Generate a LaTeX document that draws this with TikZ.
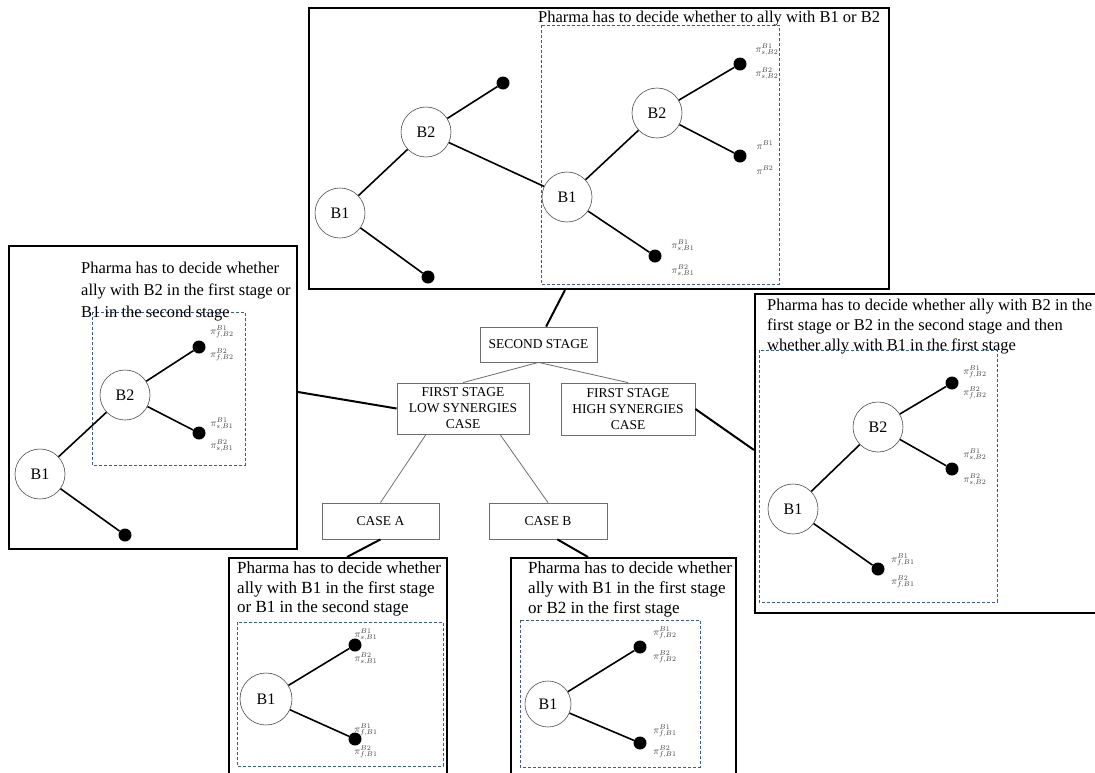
\documentclass[tikz,border=0pt]{standalone}
\usepackage{fontspec}
\setmainfont{Liberation Serif}
\usetikzlibrary{calc}
\definecolor{dashblue}{RGB}{60,90,140}
\definecolor{boxgray}{RGB}{110,110,110}
\definecolor{lblgray}{RGB}{60,60,60}
\begin{document}
\begin{tikzpicture}[x=1pt,y=-1pt,
 panel/.style={draw=black, line width=2pt, fill=white, inner sep=0pt},
 dbox/.style={draw=dashblue, line width=1pt, dash pattern=on 3pt off 2pt},
 bnode/.style={circle, draw=black!70, line width=0.6pt, fill=white, minimum size=50pt, inner sep=0pt, font=\fontsize{16}{16}\selectfont},
 leaf/.style={circle, fill=black, minimum size=13pt, inner sep=0pt},
 branch/.style={line width=1.6pt, black},
 cbox/.style={draw=boxgray, line width=0.8pt, fill=white, align=center, inner sep=0pt, font=\fontsize{13.5}{16}\selectfont},
 clink/.style={draw=boxgray, line width=0.8pt},
 plink/.style={line width=2pt, black},
 ptext/.style={anchor=base west, inner sep=0pt, font=\fontsize{16.5}{20}\selectfont},
 ctext/.style={anchor=base west, inner sep=0pt, font=\fontsize{17}{20}\selectfont},
 lbl/.style={inner sep=0pt, text=lblgray, font=\fontsize{10}{12}\selectfont},
]
\useasboundingbox (0,0) rectangle (1095,772);
\fill[white] (0,0) rectangle (1095,772);

% ---------- panels ----------
\node[panel, minimum width=580pt, minimum height=281pt, anchor=north west] (ptop) at (308,7) {};
\node[panel, minimum width=288pt, minimum height=303pt, anchor=north west] (pleft) at (8,245) {};
\node[panel, minimum width=350pt, minimum height=319pt, anchor=north west] (pright) at (754,293) {};
\node[panel, minimum width=218pt, minimum height=230pt, anchor=north west] (pcasea) at (228,557) {};
\node[panel, minimum width=225pt, minimum height=230pt, anchor=north west] (pcaseb) at (510,557) {};

% ---------- dashed boxes ----------
\draw[dbox] (541,25) rectangle (779,284);
\draw[dbox] (92,312) rectangle (245,465);
\draw[dbox] (759,350) rectangle (997,602);
\draw[dbox] (237,622) rectangle (443,766);
\draw[dbox] (520,620) rectangle (700,767);

% ---------- panel texts ----------
\node[ptext] (ttop) at (538,22) {Pharma has to decide whether to ally with B1 or B2};
\node[ptext] (tl1) at (81,273) {Pharma has to decide whether};
\node[ptext] (tl2) at (81,295) {ally with B2 in the first stage or};
\node[ptext] (tl3) at (81,317) {B1 in the second stage};
\node[ptext] (tr1) at (767,310) {Pharma has to decide whether ally with B2 in the};
\node[ptext] (tr2) at (767,330) {first stage or B2 in the second stage and then};
\node[ptext] (tr3) at (767,350) {whether ally with B1 in the first stage};
\node[ctext] (ta1) at (237,573) {Pharma has to decide whether};
\node[ctext] (ta2) at (237,593) {ally with B1 in the first stage};
\node[ctext] (ta3) at (237,612) {or B1 in the second stage};
\node[ctext] (tb1) at (528,573) {Pharma has to decide whether};
\node[ctext] (tb2) at (528,593) {ally with B1 in the first stage};
\node[ctext] (tb3) at (528,613) {or B2 in the first stage};

% ---------- top panel tree ----------
\node[bnode] (tB1) at (340,213) {B1};
\node[bnode] (tB2) at (426,132) {B2};
\node[leaf] (tL1) at (503,83) {};
\node[leaf] (tL2) at (428,277) {};
\node[bnode] (iB1) at (567,197) {B1};
\node[bnode] (iB2) at (657,113) {B2};
\node[leaf] (iL1) at (740,64) {};
\node[leaf] (iL2) at (740,156) {};
\node[leaf] (iL3) at (655,256) {};
\draw[branch] (tB1) -- (tB2);
\draw[branch] (tB1) -- (tL2);
\draw[branch] (tB2) -- (tL1);
\draw[branch] (tB2) -- (iB1);
\draw[branch] (iB1) -- (iB2);
\draw[branch] (iB1) -- (iL3);
\draw[branch] (iB2) -- (iL1);
\draw[branch] (iB2) -- (iL2);
\node[lbl] (x1) at (767,50) {$\pi^{B1}_{s,B2}$};
\node[lbl] (x2) at (767,74) {$\pi^{B2}_{s,B2}$};
\node[lbl] (x3) at (765,145) {$\pi^{B1}$};
\node[lbl] (x4) at (765,170) {$\pi^{B2}$};
\node[lbl] (x5) at (683,246) {$\pi^{B1}_{s,B1}$};
\node[lbl] (x6) at (683,271) {$\pi^{B2}_{s,B1}$};

% ---------- left panel tree ----------
\node[bnode] (lB1) at (40,474) {B1};
\node[bnode] (lB2) at (125,395) {B2};
\node[leaf] (lL1) at (199,347) {};
\node[leaf] (lL2) at (199,433) {};
\node[leaf] (lL3) at (125,535) {};
\draw[branch] (lB1) -- (lB2);
\draw[branch] (lB1) -- (lL3);
\draw[branch] (lB2) -- (lL1);
\draw[branch] (lB2) -- (lL2);
\node[lbl] (y1) at (222,332) {$\pi^{B1}_{f,B2}$};
\node[lbl] (y2) at (222,355) {$\pi^{B2}_{f,B2}$};
\node[lbl] (y3) at (222,424) {$\pi^{B1}_{s,B1}$};
\node[lbl] (y4) at (222,446) {$\pi^{B2}_{s,B1}$};

% ---------- right panel tree ----------
\node[bnode] (rB1) at (793,509) {B1};
\node[bnode] (rB2) at (878,427) {B2};
\node[leaf] (rL1) at (952,383) {};
\node[leaf] (rL2) at (952,469) {};
\node[leaf] (rL3) at (878,569) {};
\draw[branch] (rB1) -- (rB2);
\draw[branch] (rB1) -- (rL3);
\draw[branch] (rB2) -- (rL1);
\draw[branch] (rB2) -- (rL2);
\node[lbl] (z1) at (975,372) {$\pi^{B1}_{f,B2}$};
\node[lbl] (z2) at (975,393) {$\pi^{B2}_{f,B2}$};
\node[lbl] (z3) at (975,455) {$\pi^{B1}_{s,B2}$};
\node[lbl] (z4) at (975,480) {$\pi^{B2}_{s,B2}$};
\node[lbl] (z5) at (903,560) {$\pi^{B1}_{f,B1}$};
\node[lbl] (z6) at (903,582) {$\pi^{B2}_{f,B1}$};

% ---------- case A tree ----------
\node[bnode, minimum size=52pt] (aB1) at (266,699) {B1};
\node[leaf] (aL1) at (355,645) {};
\node[leaf] (aL2) at (355,739) {};
\draw[branch] (aB1) -- (aL1);
\draw[branch] (aB1) -- (aL2);
\node[lbl] (u1) at (366,635) {$\pi^{B1}_{s,B1}$};
\node[lbl] (u2) at (366,659) {$\pi^{B2}_{s,B1}$};
\node[lbl] (u3) at (366,730) {$\pi^{B1}_{f,B1}$};
\node[lbl] (u4) at (366,752) {$\pi^{B2}_{f,B1}$};

% ---------- case B tree ----------
\node[bnode, minimum size=46pt] (bB1) at (548,704) {B1};
\node[leaf] (bL1) at (640,647) {};
\node[leaf] (bL2) at (640,743) {};
\draw[branch] (bB1) -- (bL1);
\draw[branch] (bB1) -- (bL2);
\node[lbl] (v1) at (665,633) {$\pi^{B1}_{f,B2}$};
\node[lbl] (v2) at (665,657) {$\pi^{B2}_{f,B2}$};
\node[lbl] (v3) at (665,731) {$\pi^{B1}_{f,B1}$};
\node[lbl] (v4) at (665,752) {$\pi^{B2}_{f,B1}$};

% ---------- central boxes ----------
\node[cbox, minimum width=117pt, minimum height=35pt] (second) at (538.5,344.5) {SECOND STAGE};
\node[cbox, minimum width=132pt, minimum height=51pt] (low) at (463,408.5) {FIRST STAGE\\LOW SYNERGIES\\CASE};
\node[cbox, minimum width=134pt, minimum height=52pt] (high) at (628,409) {FIRST STAGE\\HIGH SYNERGIES\\CASE};
\node[cbox, minimum width=117pt, minimum height=36pt] (casea) at (380.5,521) {CASE A};
\node[cbox, minimum width=118pt, minimum height=36pt] (caseb) at (548,521) {CASE B};

\draw[clink] (second.south) -- (low.north);
\draw[clink] (second.south) -- (high.north);
\draw[clink] (low.215) -- (casea.north);
\draw[clink] (low.325) -- (caseb.north);

% ---------- thick links to panels ----------
\coordinate (cTop) at ($(ptop.south west)+(257,0)$);
\coordinate (cLeft) at ($(pleft.north east)+(0,147)$);
\coordinate (cRight) at ($(pright.north west)+(0,157)$);
\coordinate (cA) at ($(pcasea.north west)+(119,0)$);
\coordinate (cB) at ($(pcaseb.north west)+(78,0)$);
\draw[plink] (cTop) -- (second.67);
\draw[plink] (cLeft) -- (low.west);
\draw[plink] (high.east) -- (cRight);
\draw[plink] (casea.south) -- (cA);
\draw[plink] (caseb.-63) -- (cB);
\end{tikzpicture}
\end{document}
